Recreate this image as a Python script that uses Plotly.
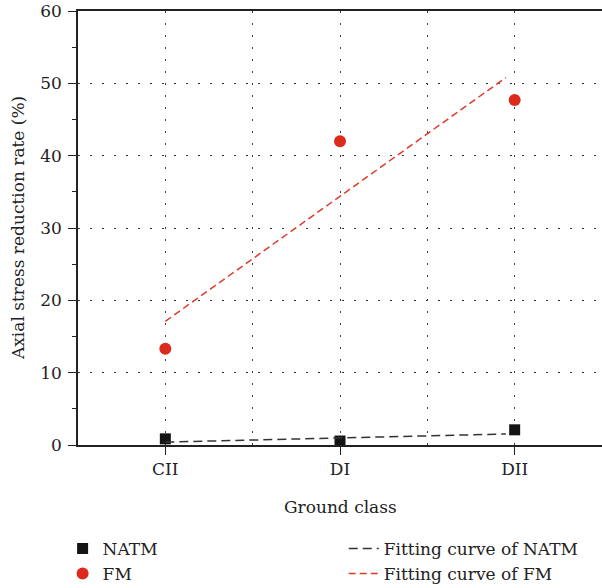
import plotly.graph_objects as go

categories = ["CII", "DI", "DII"]
cat_pos = [1, 2, 3]
natm = [0.85, 0.55, 2.1]
fm = [13.3, 42.0, 47.7]
fit_x = [1.0, 2.0, 2.95]
natm_fit = [0.4, 0.97, 1.52]
fm_fit = [17.1, 34.4, 50.8]
y_ticks = [0, 10, 20, 30, 40, 50, 60]
y_minor = [5, 15, 25, 35, 45, 55]

FONT = "DejaVu Serif"
TXT = "#222222"
FS = 17

fig = go.Figure()
fig.add_trace(go.Scatter(x=cat_pos, y=natm, mode="markers", name="NATM",
                         marker=dict(symbol="square", size=11, color="#141414"),
                         legend="legend"))
fig.add_trace(go.Scatter(x=cat_pos, y=fm, mode="markers", name="FM",
                         marker=dict(symbol="circle", size=12, color="#dc2a1c"),
                         legend="legend"))
fig.add_trace(go.Scatter(x=fit_x, y=natm_fit, mode="lines", name="Fitting curve of NATM",
                         line=dict(color="#333333", width=1.5, dash="9px,5px"),
                         legend="legend2"))
fig.add_trace(go.Scatter(x=fit_x, y=fm_fit, mode="lines", name="Fitting curve of FM",
                         line=dict(color="#e03a2a", width=1.5, dash="7px,4px"),
                         legend="legend2"))

grid = dict(showgrid=True, gridcolor="#3a3a3a", griddash="2px,10px", gridwidth=1.2)

fig.update_layout(
    width=602, height=588,
    margin=dict(l=78, r=0, t=11, b=143, autoexpand=False),
    paper_bgcolor="white", plot_bgcolor="white",
    font=dict(family=FONT, size=FS, color=TXT),
    showlegend=True,
    xaxis=dict(range=[0.5, 3.5], tickvals=cat_pos, ticktext=categories,
               showline=True, linecolor="#222", linewidth=1.5, mirror=True,
               ticks="outside", ticklen=8, tickcolor="#222", tickwidth=1.2,
               minor=dict(tickvals=[1.5, 2.5], ticks="", **grid),
               zeroline=False, automargin=False, **grid),
    yaxis=dict(range=[0, 60], tickvals=y_ticks,
               showline=True, linecolor="#222", linewidth=1.5,
               ticks="outside", ticklen=8, tickcolor="#222", tickwidth=1.2,
               ticklabelstandoff=3, ticklabeloverflow="allow",
               minor=dict(tickvals=y_minor, ticks="outside", ticklen=4,
                          tickcolor="#222", showgrid=False),
               zeroline=False, automargin=False, **grid),
    legend=dict(xref="container", yref="container", x=0.104, y=0.097,
                xanchor="left", yanchor="top", orientation="v",
                bgcolor="rgba(0,0,0,0)", font=dict(size=17), tracegroupgap=0),
    legend2=dict(xref="container", yref="container", x=0.571, y=0.097,
                 xanchor="left", yanchor="top", orientation="v",
                 bgcolor="rgba(0,0,0,0)", font=dict(size=17), tracegroupgap=0),
    annotations=[
        dict(text="Axial stress reduction rate (%)", textangle=-90,
             xref="paper", yref="paper", x=0, y=0.5, xshift=-60,
             xanchor="center", yanchor="middle", showarrow=False,
             font=dict(size=FS)),
        dict(text="Ground class", xref="paper", yref="paper", x=0.5, y=0,
             yshift=-62, xanchor="center", yanchor="middle", showarrow=False,
             font=dict(size=FS)),
    ],
)

fig.write_html("out.html", config={"displayModeBar": False},
               post_script="document.body.style.margin='0';")
